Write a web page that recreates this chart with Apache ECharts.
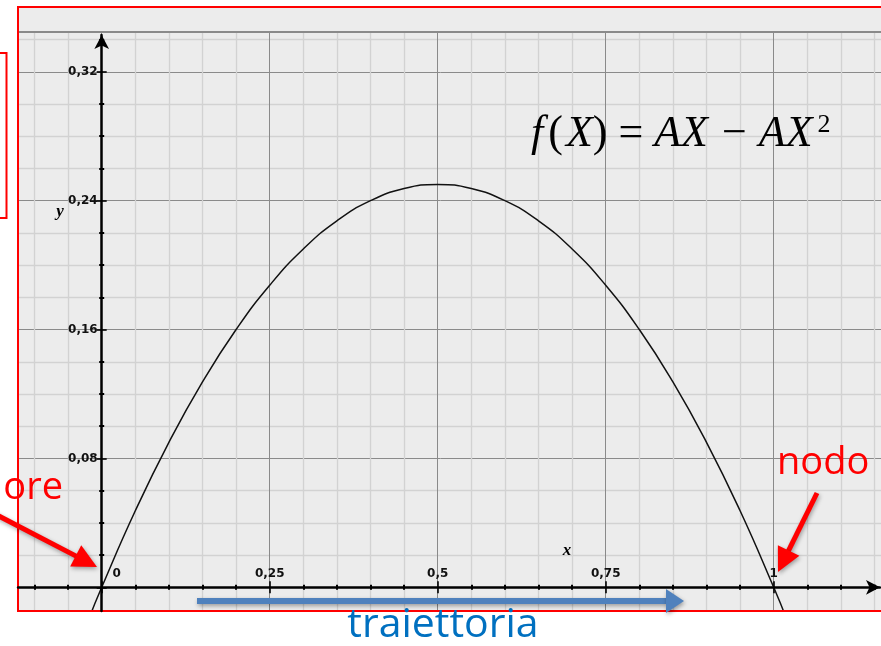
<!DOCTYPE html>
<html><head><meta charset="utf-8">
<script src="https://cdn.jsdelivr.net/npm/echarts@6/dist/echarts.min.js"></script>
<style>html,body{margin:0;padding:0;background:#fff}#c{width:881px;height:646px}</style>
</head><body><div id="c"></div>
<script>
// ---- data ----
const curveX = [-0.02, 0, 0.05, 0.1, 0.15, 0.2, 0.25, 0.3, 0.35, 0.4, 0.45, 0.5, 0.55, 0.6, 0.65, 0.7, 0.75, 0.8, 0.85, 0.9, 0.95, 1, 1.02];
const curveY = [-0.0204, 0, 0.0475, 0.09, 0.1275, 0.16, 0.1875, 0.21, 0.2275, 0.24, 0.2475, 0.25, 0.2475, 0.24, 0.2275, 0.21, 0.1875, 0.16, 0.1275, 0.09, 0.0475, 0, -0.0204];
const xTickValues = [0, 0.25, 0.5, 0.75, 1];
const xTickLabels = ['0', '0,25', '0,5', '0,75', '1'];
const yTickValues = [0.08, 0.16, 0.24, 0.32];
const yTickLabels = ['0,08', '0,16', '0,24', '0,32'];

// ---- layout ----
const W = 881, H = 646;
const X0 = 101.7, PXX = 672, Y0 = 587.3, PXY = 1611;
const FL = 18, FT = 7, FB = 611, GT = 32;
// grid A: grid lines, ticks, curve (extends past the canvas, covered by frame overlays)
const xMinA = -0.25, xMaxA = 1.25, yMinA = -0.08, yMaxA = 0.40;
const gridA = { left: X0 + xMinA * PXX, top: Y0 - yMaxA * PXY, width: (xMaxA - xMinA) * PXX, height: (yMaxA - yMinA) * PXY, outerBoundsMode: 'none', containLabel: false, show: true, backgroundColor: '#ececec', borderWidth: 0 };
// grid B: axis lines with arrows
const bL = FL, bR = 880, bT = 35, bB = FB;
const gridB = { left: bL, top: bT, width: bR - bL, height: bB - bT, outerBoundsMode: 'none', containLabel: false };
// grid C: tick labels (origin at the lower-left corner)
const xMaxC = 1.15, yMaxC = 0.34;
const gridC = { left: X0, top: Y0 - yMaxC * PXY, width: xMaxC * PXX, height: yMaxC * PXY, outerBoundsMode: 'none', containLabel: false };

function lab(v, vals, labs) {
  for (let i = 0; i < vals.length; i++) if (Math.abs(v - vals[i]) < 1e-6) return labs[i];
  return '';
}
const labelFont = { color: '#111', fontSize: 12, fontWeight: 'bold', fontFamily: 'DejaVu Sans' };
const tickStyle = { color: '#000', width: 1.6 };
const minorTickStyle = { color: '#000', width: 2 };

function arrow(x1, y1, x2, y2, color, w, headLen, headHalf, z) {
  const dx = x2 - x1, dy = y2 - y1, L = Math.hypot(dx, dy), ux = dx / L, uy = dy / L;
  const bx = x2 - ux * headLen, by = y2 - uy * headLen;
  const sh = { shadowBlur: 4, shadowColor: 'rgba(0,0,0,0.35)', shadowOffsetX: 1, shadowOffsetY: 2 };
  return [
    { type: 'line', z, shape: { x1, y1, x2: bx + ux, y2: by + uy }, style: Object.assign({ stroke: color, lineWidth: w }, sh) },
    { type: 'polygon', z, shape: { points: [[x2, y2], [bx - uy * headHalf, by + ux * headHalf], [bx + uy * headHalf, by - ux * headHalf]] }, style: Object.assign({ fill: color }, sh) }
  ];
}

const serif = 'Liberation Serif';
const graphics = [
  { type: 'rect', z: 50, shape: { x: 0, y: 0, width: FL, height: H }, style: { fill: '#fff' } },
  { type: 'rect', z: 50, shape: { x: 0, y: 0, width: W, height: FT }, style: { fill: '#fff' } },
  { type: 'rect', z: 50, shape: { x: FL, y: FT, width: W - FL, height: GT - FT }, style: { fill: '#ececec' } },
  { type: 'rect', z: 50, shape: { x: 0, y: FB, width: W, height: H - FB }, style: { fill: '#fff' } },
  { type: 'line', z: 51, shape: { x1: FL, y1: GT, x2: W, y2: GT }, style: { stroke: '#8a8a8a', lineWidth: 2 } },
  { type: 'rect', z: 52, shape: { x: FL, y: FT, width: W - FL + 10, height: FB - FT }, style: { fill: null, stroke: '#ff0000', lineWidth: 2 } },
  { type: 'rect', z: 52, shape: { x: -10, y: 53, width: 16.5, height: 165 }, style: { fill: null, stroke: '#ff0000', lineWidth: 2 } },
  { type: 'text', z: 53, style: { text: 'y', x: 60, y: 212, align: 'center', verticalAlign: 'middle', fontFamily: serif, fontStyle: 'italic', fontWeight: 'bold', fontSize: 17, fill: '#000' } },
  { type: 'text', z: 53, style: { text: 'x', x: 567, y: 551, align: 'center', verticalAlign: 'middle', fontFamily: serif, fontStyle: 'italic', fontWeight: 'bold', fontSize: 17, fill: '#000' } },
  { type: 'text', z: 53, style: {
      text: '{f|f}{p|(}{i|X}{n|) = }{i|AX}{m|\u2212}{i|AX}{s|2}', x: 531, y: 134, align: 'left', verticalAlign: 'middle',
      rich: {
        f: { fontFamily: serif, fontStyle: 'italic', fontSize: 44, fill: '#000', lineHeight: 48, padding: [0, 5, 0, 0] },
        p: { fontFamily: serif, fontSize: 44, fill: '#000', lineHeight: 48, padding: [0, 3, 0, 0] },
        i: { fontFamily: serif, fontStyle: 'italic', fontSize: 44, fill: '#000', lineHeight: 48 },
        n: { fontFamily: serif, fontSize: 44, fill: '#000', lineHeight: 48 },
        m: { fontFamily: serif, fontSize: 44, fill: '#000', lineHeight: 48, padding: [0, 12, 0, 14] },
        s: { fontFamily: serif, fontSize: 26, fill: '#000', verticalAlign: 'top', lineHeight: 26, padding: [2, 0, 0, 5] }
      } } },
  { type: 'text', z: 70, style: { text: 'ore', x: 63, y: 488, align: 'right', verticalAlign: 'middle', fontFamily: 'Open Sans', fontSize: 38, fill: '#ff0000' } },
  { type: 'text', z: 70, style: { text: 'nodo', x: 777, y: 463, align: 'left', verticalAlign: 'middle', fontFamily: 'Open Sans', fontSize: 38, fill: '#ff0000' } },
  { type: 'text', z: 70, style: { text: 'traiettoria', x: 443, y: 625, align: 'center', verticalAlign: 'middle', fontFamily: 'Open Sans', fontSize: 41, fill: '#0070c0' } }
].concat(
  arrow(-5, 514, 97, 567, '#ff0000', 5, 24, 12, 70),
  arrow(817, 493, 778, 572, '#ff0000', 5, 24, 12, 70),
  arrow(197, 601, 684, 601, '#4f81bd', 6, 18, 12, 70)
);

const hidden = { axisLine: { show: false }, axisTick: { show: false }, splitLine: { show: false } };

const chart = echarts.init(document.getElementById('c'), null, { renderer: 'canvas' });
chart.setOption({
  animation: false,
  backgroundColor: '#fff',
  grid: [gridA, gridB, gridC],
  xAxis: [
    { gridIndex: 0, type: 'value', min: xMinA, max: xMaxA, interval: 0.25, position: 'bottom', z: 1,
      axisLine: { show: false, onZero: true, onZeroAxisIndex: 0 },
      axisTick: { show: true, inside: false, length: 6, lineStyle: tickStyle },
      minorTick: { show: true, splitNumber: 5, length: 2.5, lineStyle: minorTickStyle },
      axisLabel: { show: false },
      splitLine: { show: true, lineStyle: { color: '#8a8a8a', width: 1 } },
      minorSplitLine: { show: true, lineStyle: { color: '#d2d2d2', width: 1.3 } } },
    { gridIndex: 0, type: 'value', min: xMinA, max: xMaxA, interval: 0.25, position: 'bottom', z: 1,
      axisLine: { show: false, onZero: true, onZeroAxisIndex: 1 },
      axisTick: { show: true, inside: true, length: 6, lineStyle: tickStyle },
      minorTick: { show: true, splitNumber: 5, length: 2.5, lineStyle: minorTickStyle },
      axisLabel: { show: false }, splitLine: { show: false } },
    { gridIndex: 1, type: 'value', min: (bL - X0) / PXX, max: (bR - X0) / PXX, z: 60,
      axisLine: { show: true, onZero: true, symbol: ['none', 'arrow'], symbolSize: [11, 14], lineStyle: { color: '#000', width: 2.5 } },
      axisTick: { show: false }, axisLabel: { show: false }, splitLine: { show: false } },
    Object.assign({ gridIndex: 2, type: 'value', min: 0, max: xMaxC, interval: 0.25, position: 'bottom', z: 55,
      axisLabel: Object.assign({ show: true, inside: true, margin: 7, showMinLabel: true, showMaxLabel: true, hideOverlap: false,
        formatter: v => v === 0 ? '{o|0}' : lab(v, xTickValues, xTickLabels),
        rich: { o: Object.assign({ padding: [0, 0, 0, 30] }, labelFont) } }, labelFont) }, hidden)
  ],
  yAxis: [
    { gridIndex: 0, type: 'value', min: yMinA, max: yMaxA, interval: 0.08, position: 'left', z: 1,
      axisLine: { show: false, onZero: true, onZeroAxisIndex: 0 },
      axisTick: { show: true, inside: false, length: 5, lineStyle: tickStyle },
      minorTick: { show: true, splitNumber: 4, length: 2.5, lineStyle: minorTickStyle },
      axisLabel: { show: false },
      splitLine: { show: true, lineStyle: { color: '#8a8a8a', width: 1 } },
      minorSplitLine: { show: true, lineStyle: { color: '#d2d2d2', width: 1.3 } } },
    { gridIndex: 0, type: 'value', min: yMinA, max: yMaxA, interval: 0.08, position: 'left', z: 1,
      axisLine: { show: false, onZero: true, onZeroAxisIndex: 1 },
      axisTick: { show: true, inside: true, length: 5, lineStyle: tickStyle },
      minorTick: { show: true, splitNumber: 4, length: 2.5, lineStyle: minorTickStyle },
      axisLabel: { show: false }, splitLine: { show: false } },
    { gridIndex: 1, type: 'value', min: (Y0 - bB) / PXY, max: (Y0 - bT) / PXY, z: 60,
      axisLine: { show: true, onZero: true, symbol: ['none', 'arrow'], symbolSize: [11, 14], lineStyle: { color: '#000', width: 2.5 } },
      axisTick: { show: false }, axisLabel: { show: false }, splitLine: { show: false } },
    Object.assign({ gridIndex: 2, type: 'value', min: 0, max: yMaxC, interval: 0.08, position: 'left', z: 55,
      axisLabel: Object.assign({ show: true, margin: 4, showMinLabel: true, showMaxLabel: true, hideOverlap: false,
        formatter: v => lab(v, yTickValues, yTickLabels) }, labelFont) }, hidden)
  ],
  series: [{
    type: 'line', xAxisIndex: 0, yAxisIndex: 0, smooth: true, showSymbol: false, z: 3,
    data: curveX.map((x, i) => [x, curveY[i]]),
    lineStyle: { color: '#111', width: 1.5 }
  }],
  graphic: { elements: graphics }
});
</script></body></html>
